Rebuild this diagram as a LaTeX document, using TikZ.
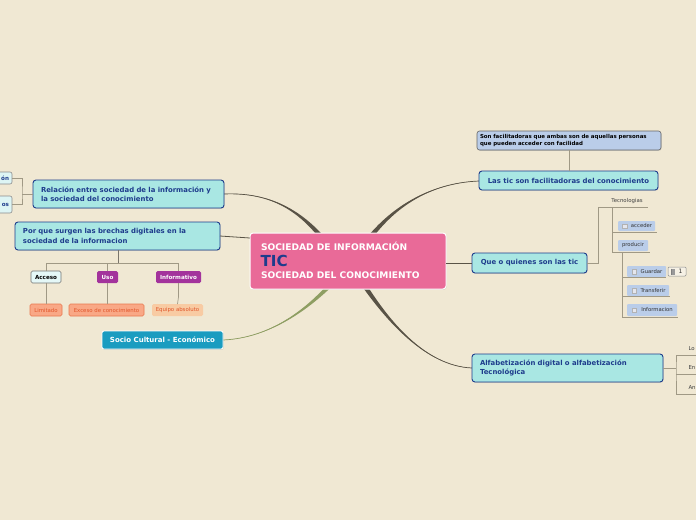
\documentclass[tikz,border=0pt]{standalone}
\usepackage{fontspec}
\setmainfont{DejaVu Sans}
\usetikzlibrary{calc,shadows}
\definecolor{bg}{HTML}{F0E8D3}
\definecolor{cyanfill}{HTML}{A9E7E3}
\definecolor{navy}{HTML}{1E3C8C}
\definecolor{pinkc}{HTML}{E96A98}
\definecolor{purp}{HTML}{A3339C}
\definecolor{salmon}{HTML}{F9A886}
\definecolor{salmonb}{HTML}{E8784F}
\definecolor{salmontx}{HTML}{E0552A}
\definecolor{peach}{HTML}{F8CBA3}
\definecolor{tealc}{HTML}{1A9CC0}
\definecolor{lblue}{HTML}{BACDE9}
\definecolor{conn}{HTML}{595346}
\definecolor{olive}{HTML}{8E9E62}
\definecolor{thinc}{HTML}{A09985}
\definecolor{chk}{HTML}{E4E6EE}
\newcommand\fs[1]{\fontsize{#1}{#1}\selectfont}
\newcommand\fsb[2]{\fontsize{#1}{#2}\selectfont}
\tikzset{
  every node/.style={inner sep=0pt, outer sep=0pt},
  mainbox/.style={draw=navy, line width=0.9pt, fill=cyanfill, rounded corners=3pt,
     text=navy, font=\fsb{6.9}{9.4}\bfseries, align=left, anchor=center,
     drop shadow={shadow xshift=0.6pt, shadow yshift=-0.8pt, opacity=0.25}},
  smallbox/.style={rounded corners=1.5pt, font=\fs{5.6}\bfseries, align=center},
  leaf/.style={rounded corners=1pt, fill=lblue, font=\fs{5.3}, text=black!80, anchor=center},
  thin/.style={draw=thinc, line width=0.7pt},
  chkbox/.style={draw=black!30, fill=chk, minimum width=4.5pt, minimum height=4.5pt, line width=0.3pt},
}
\begin{document}
\begin{tikzpicture}[x=1pt,y=-1pt]
\fill[bg] (0,0) rectangle (696,520);
\useasboundingbox (0,0) rectangle (696,520);

% ---------- main tapered connectors (drawn first, under nodes) ----------
\coordinate (c1A) at (224,194);
\coordinate (c1B) at (324,240);
\draw[conn, line width=0.7pt] (c1A) .. controls (272,192) and (301,212) .. (c1B);
\fill[conn] (c1A) .. controls (272,192) and ($(301,212)+(1,-0.7)$) .. ($(c1B)+(2,-1.4)$) -- ($(c1B)+(-2,1.4)$) .. controls ($(301,212)+(-1,0.7)$) and (272,192) .. (c1A);
\coordinate (c2A) at (479,181);
\coordinate (c2B) at (368,240);
\draw[conn, line width=0.7pt] (c2A) .. controls (430,183) and (393,207) .. (c2B);
\fill[conn] (c2A) .. controls (430,183) and ($(393,207)+(1,0.7)$) .. ($(c2B)+(2,1.4)$) -- ($(c2B)+(-2,-1.4)$) .. controls ($(393,207)+(-1,-0.7)$) and (430,183) .. (c2A);
\coordinate (c3A) at (472,368);
\coordinate (c3B) at (362,282);
\draw[conn, line width=0.7pt] (c3A) .. controls (425,366) and (387,320) .. (c3B);
\fill[conn] (c3A) .. controls (425,366) and ($(387,320)+(1,-0.5)$) .. ($(c3B)+(2.2,-1.1)$) -- ($(c3B)+(-2.2,1.1)$) .. controls ($(387,320)+(-1,0.5)$) and (425,366) .. (c3A);
\coordinate (c4A) at (223,340);
\coordinate (c4B) at (333,282);
\draw[olive, line width=0.7pt] (c4A) .. controls (270,338) and (308,309) .. (c4B);
\fill[olive] (c4A) .. controls (270,338) and ($(308,309)+(1,0.5)$) .. ($(c4B)+(2.2,1.1)$) -- ($(c4B)+(-2.2,-1.1)$) .. controls ($(308,309)+(-1,-0.5)$) and (270,338) .. (c4A);

% ---------- center ----------
\node[draw=white, line width=1pt, fill=pinkc, rounded corners=3pt, minimum width=196, minimum height=56,
      drop shadow={shadow xshift=0.6pt, shadow yshift=-0.8pt, opacity=0.25}] (center) at (348,261) {};
\node[anchor=west, text=white, font=\fs{9.1}\bfseries] (ct1) at (261,246.5) {SOCIEDAD DE INFORMACIÓN};
\node[anchor=west, text=navy, font=\fs{15.2}\bfseries] (ct2) at (260.5,261) {TIC};
\node[anchor=west, text=white, font=\fs{9.1}\bfseries] (ct3) at (261,275) {SOCIEDAD DEL CONOCIMIENTO};

% ---------- left side ----------
\node[mainbox, minimum width=191, minimum height=28, text width=175] (rel) at (128.5,194)
  {Relación entre sociedad de la información y\\la sociedad del conocimiento};
\node[mainbox, minimum width=205, minimum height=28, text width=189] (porque) at (117.5,236)
  {Por que surgen las brechas digitales en la\\sociedad de la informacion};
\node[draw=black!45, line width=0.6pt, fill=cyanfill!40!white, rounded corners=2pt, minimum width=34, minimum height=12,
      font=\fs{5.6}\bfseries, text=navy, align=right, text width=28] (ston) at (-5,178) {ón};
\node[draw=black!45, line width=0.6pt, fill=cyanfill!40!white, rounded corners=2pt, minimum width=34, minimum height=17,
      font=\fs{5.6}\bfseries, text=navy, align=right, text width=28] (stos) at (-5,204.5) {os};
\coordinate (jl) at (22,194);
\draw[thin] (rel.west) -- (jl);
\draw[thin] (ston.east) -| (jl) |- (stos.east);

\draw[conn, line width=0.8pt] (porque.east) -- (center.west |- 0,238);

\node[smallbox, draw=black!55, line width=0.6pt, fill=cyanfill!30!white, text=black, minimum width=30, minimum height=12] (acceso) at (46,277) {Acceso};
\node[smallbox, fill=purp, text=white, minimum width=21, minimum height=12] (uso) at (107.5,277) {Uso};
\node[smallbox, fill=purp, text=white, minimum width=45, minimum height=12] (info) at (178.5,277) {Informativo};
\node[smallbox, draw=salmonb, line width=0.6pt, fill=salmon, text=salmontx, font=\fs{5.4}, minimum width=32, minimum height=12] (lim) at (46,310) {Limitado};
\node[smallbox, draw=salmonb, line width=0.6pt, fill=salmon, text=salmontx, font=\fs{5.4}, minimum width=75, minimum height=12] (exc) at (106.5,310) {Exceso de conocimiento};
\node[smallbox, fill=peach, text=salmontx, font=\fs{5.4}, minimum width=51, minimum height=12] (equ) at (177.5,310) {Equipo absoluto};
\coordinate (pq) at (118,263.5);
\draw[thin, draw=conn!80] (porque.south -| pq) -- (pq);
\draw[thin] (acceso.north) |- (pq) -| (info.north);
\draw[thin] (uso.north |- pq) -- (uso.north);
\draw[thin] (acceso.south) -- (lim.north);
\draw[thin] (uso.south) -- (exc.north -| uso.south);
\draw[thin] (info.south) -- ++(0,14) -- (equ.north);

\node[draw=white, line width=0.8pt, fill=tealc, rounded corners=2pt, minimum width=121, minimum height=18,
      text=white, font=\fs{7}\bfseries,
      drop shadow={shadow xshift=0.6pt, shadow yshift=-0.8pt, opacity=0.25}] (socio) at (162.5,340) {Socio Cultural - Económico};

% ---------- right side ----------
\node[draw=black!60, line width=0.6pt, fill=lblue, rounded corners=2.5pt, minimum width=184, minimum height=19,
      text width=178, align=left, font=\fsb{5.45}{7.6}\bfseries, text=black,
      drop shadow={shadow xshift=0.6pt, shadow yshift=-0.8pt, opacity=0.25}] (son) at (569,140.5)
  {Son facilitadoras que ambas son de aquellas personas\\que pueden acceder con facilidad};
\node[mainbox, minimum width=179, minimum height=19, align=center] (lastic) at (568.5,180.5)
  {Las tic son facilitadoras del conocimiento};
\draw[thin] (son.south -| 569,0) -- (lastic.north -| 569,0);

\node[mainbox, minimum width=115, minimum height=20, align=center] (que) at (529.5,263) {Que o quienes son las tic};
\draw[conn, line width=0.8pt] (center.east |- 0,263) -- (que.west);

\node[mainbox, minimum width=191, minimum height=28, text width=175] (alfa) at (567.5,368)
  {Alfabetización digital o alfabetización\\Tecnológica};

% Tecnologias subtree
\node[font=\fs{5.4}, text=black!75, anchor=center] (tec) at (627,201) {Tecnologias};
\coordinate (tq) at (598,207);
\draw[thin] (que.east) -| (tq) -- (648,207);
\node[leaf, minimum width=37, minimum height=10] (acc) at (636.5,226) {\hspace{10pt}acceder};
\node[chkbox] (accb) at (624.5,226) {};
\node[leaf, minimum width=30, minimum height=11] (prod) at (633,245.5) {producir};
\draw[thin] (612,207) -- (612,252) -- (650,252);
\draw[thin] (612,232) -- (657,232);
\node[leaf, minimum width=39, minimum height=11] (guar) at (646.5,271.5) {\hspace{10pt}Guardar};
\node[chkbox] (guarb) at (634,271.5) {};
\node[leaf, minimum width=42, minimum height=11] (trans) at (648,290.5) {\hspace{10pt}Transferir};
\node[chkbox] (transb) at (634,290.5) {};
\node[leaf, minimum width=50, minimum height=12] (infor) at (652,310) {\hspace{10pt}Informacion};
\node[chkbox] (inforb) at (634,310) {};
\node[draw=black!45, line width=0.5pt, fill=bg!60!white, rounded corners=1pt, minimum width=18, minimum height=9,
      font=\fs{6}, text=black!80] (icon) at (677,271.5) {\hspace{7pt}1};
\draw[black!50, line width=0.4pt] (671.2,268.5) -- (671.2,274.5);
\fill[black!40] (672.3,268.5) rectangle (674.5,274.5);
\draw[thin] (622,252) -- (622,317) -- (678,317);
\draw[thin] (622,277.5) -- (666,277.5);
\draw[thin] (622,296.5) -- (670,296.5);

% Alfabetizacion subtree
\coordinate (aj) at (676,368);
\draw[thin] (alfa.east) -- (aj);
\draw[thin] (700,355) -| (aj) |- (700,394);
\draw[thin] (676,374.5) -- (700,374.5);
\node[font=\fs{5.4}, text=black!75, anchor=west] (t1) at (688.5,349) {Lo};
\node[font=\fs{5.4}, text=black!75, anchor=west] (t2) at (688.5,368) {En};
\node[font=\fs{5.4}, text=black!75, anchor=west] (t3) at (688.5,388) {An};
\end{tikzpicture}
\end{document}
